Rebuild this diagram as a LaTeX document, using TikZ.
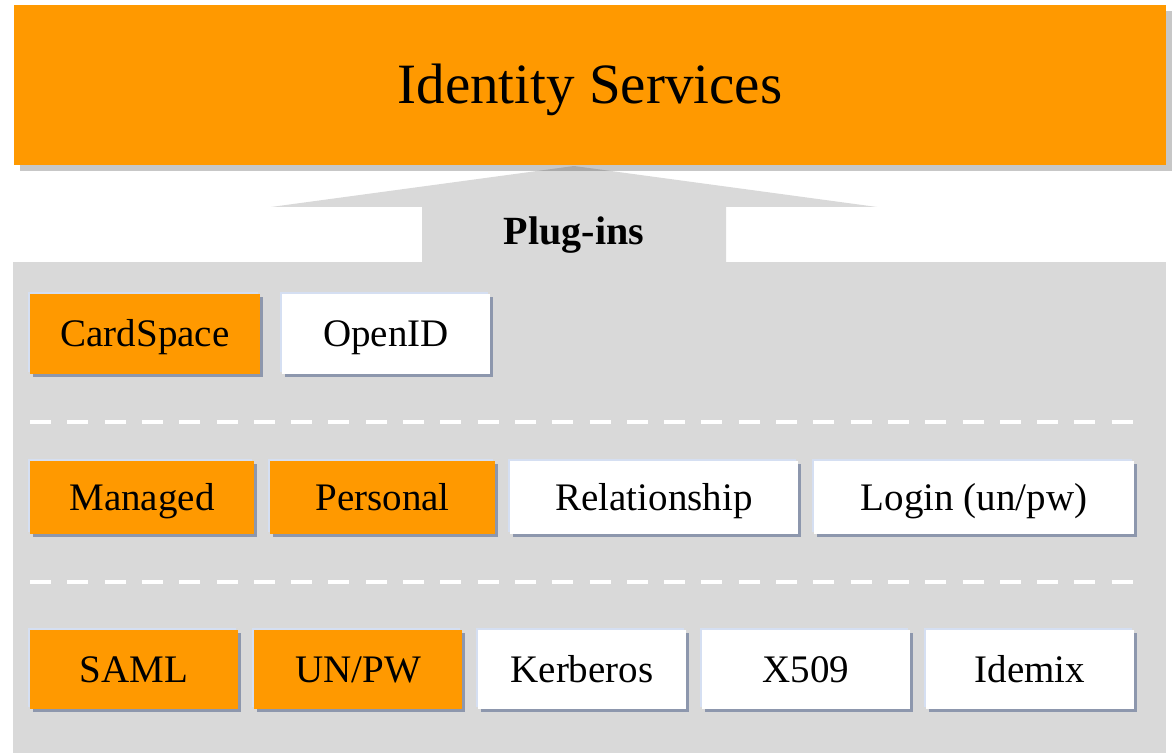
\documentclass[tikz,border=0pt]{standalone}
\newif\ifpalatino
\IfFileExists{mathpazo.sty}{\IfFileExists{uplr8a.pfb}{\IfFileExists{uplr8r.tfm}{\palatinotrue}{}}{}}{}
\ifpalatino
  \usepackage{mathpazo}
\else
  \usepackage{fontspec}
  \setmainfont{Liberation Serif}
\fi
\usetikzlibrary{shadows}

\definecolor{idorange}{HTML}{FF9900}
\definecolor{panelgray}{HTML}{D9D9D9}
\definecolor{boxshadow}{HTML}{8D97AD}
\definecolor{edgeblue}{HTML}{D5DFF2}

\tikzset{
  plugbox/.style={inner sep=0pt, fill=white, font=\fontsize{19.5}{22}\selectfont,
    text height=12.9pt, text depth=0pt,
    general shadow={shadow xshift=-.8pt, shadow yshift=.8pt, fill=edgeblue},
    drop shadow={shadow xshift=1.3pt, shadow yshift=-1.3pt, fill=boxshadow, opacity=1}},
  titlebox/.style={inner sep=0pt, fill=idorange, minimum width=576pt, minimum height=80pt,
    font=\fontsize{28.5}{32}\selectfont, text height=18.8pt, text depth=0pt,
    drop shadow={shadow xshift=3pt, shadow yshift=-3pt, fill=black, opacity=.22}},
  sepline/.style={white, line width=2.4pt, dash pattern=on 10.5pt off 8.15pt}
}

\begin{document}
\begin{tikzpicture}[x=.5pt, y=-.5pt]
  \useasboundingbox (0,0) rectangle (1173,753);

  \fill[panelgray] (13,262) rectangle (1166,753);
  \fill[panelgray] (422,262) -- (422,207) -- (271,207) -- (574,166)
                   -- (877,207) -- (726,207) -- (726,262) -- cycle;

  \node[titlebox] (idserv) at (590,85) {Identity Services};
  \node[font=\bfseries\fontsize{20}{22}\selectfont, text height=13.2pt, text depth=0pt, inner sep=0pt] (plugins) at (574,231) {Plug-ins};

  \node[plugbox, fill=idorange, minimum width=115pt, minimum height=40pt] (cardspace) at (145,334) {CardSpace};
  \node[plugbox, minimum width=104pt, minimum height=40pt] (openid) at (386,334) {OpenID};

  \draw[sepline] (30,422) -- (1134,422);

  \node[plugbox, fill=idorange, minimum width=112pt, minimum height=36.5pt] (managed) at (142,497.5) {Managed};
  \node[plugbox, fill=idorange, minimum width=112.5pt, minimum height=36.5pt] (personal) at (382.5,497.5) {Personal};
  \node[plugbox, minimum width=144pt, minimum height=36.5pt] (relation) at (654,497.5) {Relationship};
  \node[plugbox, minimum width=160pt, minimum height=36.5pt] (login) at (974,497.5) {Login (un/pw)};

  \draw[sepline] (30,582) -- (1134,582);

  \node[plugbox, fill=idorange, minimum width=104pt, minimum height=39.5pt] (saml) at (134,669.5) {SAML};
  \node[plugbox, fill=idorange, minimum width=104pt, minimum height=39.5pt] (unpw) at (358,669.5) {UN/PW};
  \node[plugbox, minimum width=104pt, minimum height=39.5pt] (kerberos) at (582,669.5) {Kerberos};
  \node[plugbox, minimum width=104pt, minimum height=39.5pt] (xfive) at (806,669.5) {X509};
  \node[plugbox, minimum width=104pt, minimum height=39.5pt] (idemix) at (1030,669.5) {Idemix};
\end{tikzpicture}
\end{document}
